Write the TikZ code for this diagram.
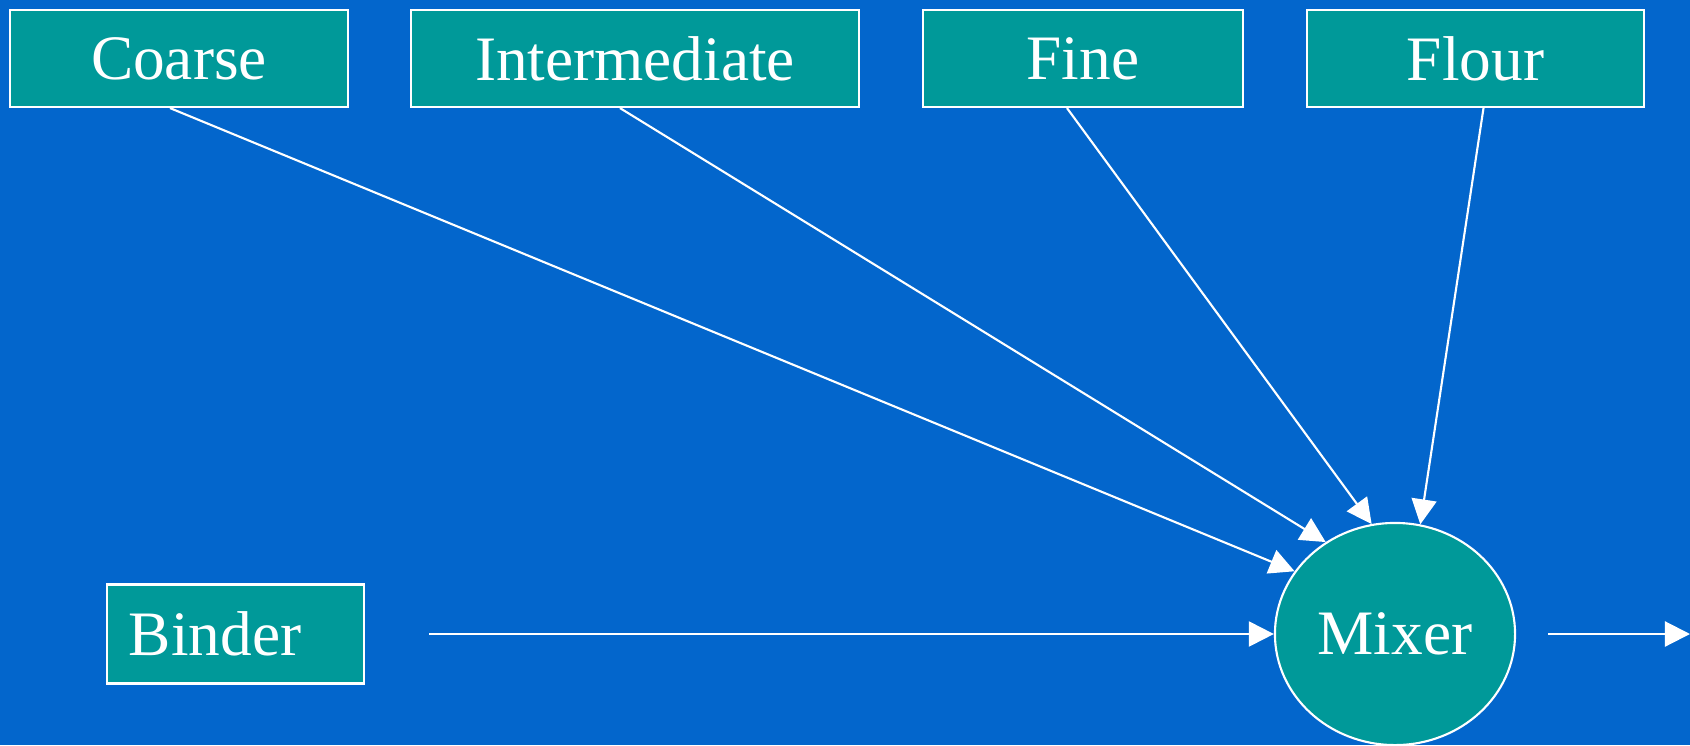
\documentclass[tikz,border=0pt]{standalone}
\usepackage{fontspec}
\setmainfont{Liberation Serif}
\usetikzlibrary{shapes.geometric,arrows.meta}
\definecolor{slideblue}{RGB}{3,102,204}
\definecolor{tealbox}{RGB}{0,153,153}
\tikzset{
  feed/.style={draw=white,line width=0.6pt,fill=tealbox,text=white,
    minimum height=0.97cm,inner sep=0pt,font=\fontsize{18}{22}\selectfont},
  flow/.style={draw=white,line width=0.6pt,-{Triangle[length=2.5mm,width=2.5mm]}}
}
\begin{document}
\begin{tikzpicture}[x=0.01cm,y=-0.01cm]
          \fill[slideblue] (0,0) rectangle (1690,745);
          \useasboundingbox (0,0) rectangle (1690,745);

          \node[feed,minimum width=3.38cm] (coarse) at (179,58.5) {Coarse};
          \node[feed,minimum width=4.48cm] (inter) at (635,58.5) {Intermediate};
          \node[feed,minimum width=3.20cm] (fine) at (1083,58.5) {Fine};
          \node[feed,minimum width=3.37cm] (flour) at (1475.5,58.5) {Flour};
          \node[feed,minimum height=0.99cm,text width=2.13cm,align=left,inner xsep=0.22cm] (binder) at (235.5,634) {Binder};
          \node[feed,ellipse,minimum width=2.40cm,minimum height=2.22cm] (mixer) at (1395,634) {Mixer};
          \coordinate (product) at (1690,634);

          \draw[flow] ([xshift=-0.09cm]coarse.south) -- (mixer.148);
          \draw[flow] ([xshift=-0.15cm]inter.south) -- (mixer.127);
          \draw[flow] ([xshift=-0.16cm]fine.south) -- (mixer.102);
          \draw[flow] ([xshift=0.08cm]flour.south) -- (mixer.77);
          \draw[flow,shorten <=0.64cm] (binder) -- (mixer);
          \draw[flow,shorten <=0.32cm] (mixer) -- (product);
        \end{tikzpicture}
\end{document}
